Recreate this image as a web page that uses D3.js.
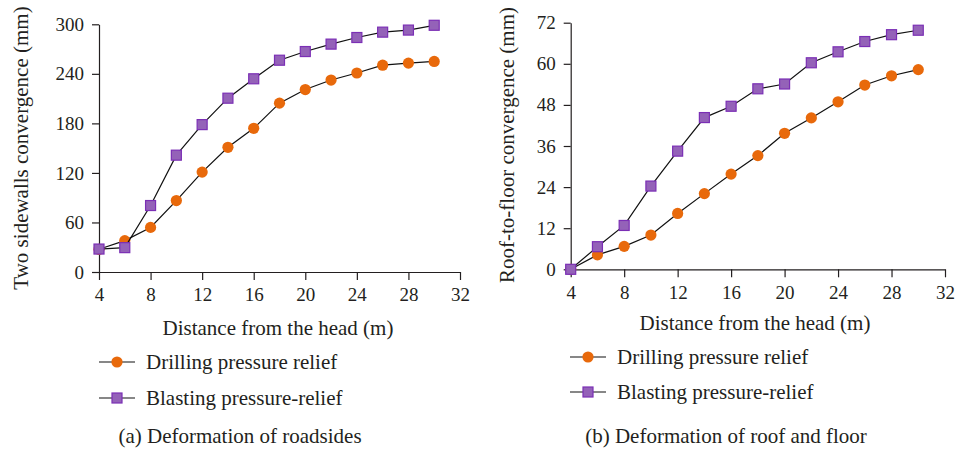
<!DOCTYPE html>
<html>
<head>
<meta charset="utf-8">
<script src="https://cdn.jsdelivr.net/npm/d3@7"></script>
<style>
  body { margin: 0; background: #fff; }
  svg text { font-family: "Liberation Serif", "Times New Roman", serif; fill: #231f20; }
  .axis path, .axis line { stroke: #231f20; stroke-width: 1.2; }
</style>
</head>
<body>
<div class="chart"></div>
<script>
// distance from the head (m)
var distance = [4, 6, 8, 10, 12, 14, 16, 18, 20, 22, 24, 26, 28, 30]
var xTicks = [4, 8, 12, 16, 20, 24, 28, 32]

// (a) two sidewalls convergence (mm)
var sideDrilling = [27.5, 38, 54, 86.5, 121, 151, 174, 204.5, 221, 232.5, 241, 250.5, 253, 255]
var sideBlasting = [27.8, 29.5, 80.5, 141.5, 178.5, 210.5, 234, 256.5, 267, 276, 284, 290.5, 293, 298.8]
var sideTicks = [0, 60, 120, 180, 240, 300]

// (b) roof-to-floor convergence (mm)
var roofDrilling = [0, 4.2, 6.7, 10.0, 16.3, 22.1, 27.8, 33.2, 39.7, 44.2, 48.9, 53.8, 56.5, 58.3]
var roofBlasting = [0, 6.6, 12.8, 24.3, 34.5, 44.3, 47.6, 52.7, 54.1, 60.3, 63.5, 66.5, 68.5, 69.8]
var roofTicks = [0, 12, 24, 36, 48, 60, 72]

var seriesNames = ["Drilling pressure relief", "Blasting pressure-relief"]

var orange = "#e8690b", purple = "#9462b8", purpleEdge = "#7b2fb5"

var svg = d3.select(".chart")
  .append("svg")
  .attr("width", 957)
  .attr("height", 449)

function panel(opt) {
  var x = d3.scaleLinear().domain([4, 32]).range([opt.left, opt.right])
  var y = d3.scaleLinear().domain([0, opt.yMax]).range([opt.bottom, opt.top])

  var g = svg.append("g")

  g.append("g")
    .attr("class", "axis")
    .attr("transform", "translate(0," + opt.bottom + ")")
    .call(d3.axisBottom(x).tickValues(xTicks).tickSize(8).tickSizeOuter(0).tickPadding(8))
    .selectAll("text").style("font-size", "19px")

  g.append("g")
    .attr("class", "axis")
    .attr("transform", "translate(" + opt.left + ",0)")
    .call(d3.axisLeft(y).tickValues(opt.yTicks).tickSize(7).tickSizeOuter(0).tickPadding(8))
    .selectAll("text").style("font-size", "19px")

  g.selectAll(".axis .domain").attr("fill", "none")

  var line = d3.line()
    .x(function(d) { return x(d[0]); })
    .y(function(d) { return y(d[1]); })

  var drill = d3.zip(distance, opt.drilling)
  var blast = d3.zip(distance, opt.blasting)

  g.append("path").datum(drill).attr("d", line)
    .attr("fill", "none").attr("stroke", "#111").attr("stroke-width", 1.2)
  g.selectAll(".dot").data(drill).enter().append("circle")
    .attr("cx", function(d) { return x(d[0]); })
    .attr("cy", function(d) { return y(d[1]); })
    .attr("r", 5.6)
    .attr("fill", orange)

  g.append("path").datum(blast).attr("d", line)
    .attr("fill", "none").attr("stroke", "#111").attr("stroke-width", 1.2)
  g.selectAll(".sq").data(blast).enter().append("rect")
    .attr("x", function(d) { return x(d[0]) - 5; })
    .attr("y", function(d) { return y(d[1]) - 5; })
    .attr("width", 10).attr("height", 10)
    .attr("fill", purple).attr("stroke", purpleEdge).attr("stroke-width", 1.2)

  // axis titles
  g.append("text")
    .attr("transform", "translate(" + opt.yTitleX + "," + opt.yTitleY + ") rotate(-90)")
    .attr("text-anchor", "middle")
    .style("font-size", "21px")
    .text(opt.yTitle)

  g.append("text")
    .attr("x", opt.xTitleX).attr("y", opt.xTitleY)
    .attr("text-anchor", "middle")
    .style("font-size", "21px")
    .text("Distance from the head (m)")

  // legend
  seriesNames.forEach(function(name, i) {
    var ly = opt.legendY[i]
    g.append("line")
      .attr("x1", opt.legendX).attr("x2", opt.legendX + 36)
      .attr("y1", ly).attr("y2", ly)
      .attr("stroke", "#111").attr("stroke-width", 1.2)
    if (i == 0) {
      g.append("circle").attr("cx", opt.legendX + 18).attr("cy", ly).attr("r", 5.6).attr("fill", orange)
    } else {
      g.append("rect").attr("x", opt.legendX + 13).attr("y", ly - 5)
        .attr("width", 10).attr("height", 10)
        .attr("fill", purple).attr("stroke", purpleEdge).attr("stroke-width", 1.2)
    }
    g.append("text")
      .attr("x", opt.legendX + 47).attr("y", ly + 7)
      .style("font-size", "21px")
      .text(name)
  })

  g.append("text")
    .attr("x", opt.captionX).attr("y", 443)
    .attr("text-anchor", "middle")
    .style("font-size", "21px")
    .text(opt.caption)
}

panel({
  left: 99, right: 460, top: 24.3, bottom: 272,
  yMax: 300, yTicks: sideTicks,
  drilling: sideDrilling, blasting: sideBlasting,
  yTitle: "Two sidewalls convergence (mm)", yTitleX: 28, yTitleY: 148,
  xTitleX: 278, xTitleY: 335,
  legendX: 99, legendY: [362, 398],
  captionX: 240, caption: "(a) Deformation of roadsides"
})

panel({
  left: 570.7, right: 945, top: 22.7, bottom: 269.3,
  yMax: 72, yTicks: roofTicks,
  drilling: roofDrilling, blasting: roofBlasting,
  yTitle: "Roof-to-floor convergence (mm)", yTitleX: 514, yTitleY: 145,
  xTitleX: 755, xTitleY: 330,
  legendX: 570, legendY: [357, 392],
  captionX: 726, caption: "(b) Deformation of roof and floor"
})
</script>
</body>
</html>
